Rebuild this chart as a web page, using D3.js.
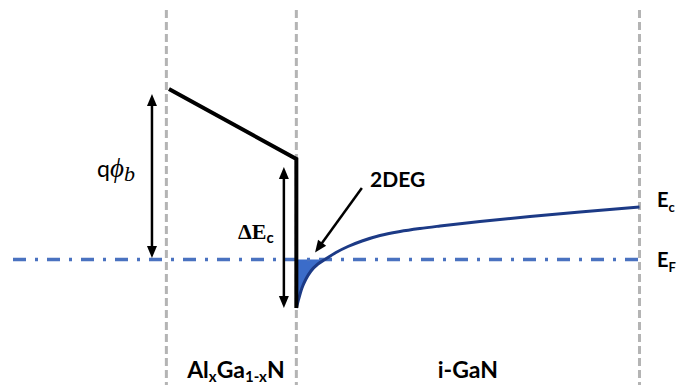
<!DOCTYPE html>
<html><head><meta charset="utf-8">
<script src="https://cdn.jsdelivr.net/npm/d3@7"></script>
<style>html,body{margin:0;padding:0;background:#fff;}svg{display:block;}</style>
</head><body>
<svg id="c" width="679" height="385"></svg>
<script>
// ---- data (position in nm, energy in eV relative to E_F) ----
const interfaces = [0, 25, 91];               // layer boundaries (nm)
const barrierX = [0.5, 25, 25];               // AlGaN conduction band
const barrierE = [1.705, 1.005, -0.485];
const gaNX = [25, 25.5, 26.08, 26.85, 27.81, 29.15, 30.5, 32.62, 34.93, 37.63, 41.09, 44.94, 48.79, 52.63, 60.32, 69.94, 79.56, 91];
const gaNE = [-0.485, -0.385, -0.285, -0.195, -0.115, -0.045, 0, 0.07, 0.13, 0.185, 0.24, 0.28, 0.31, 0.335, 0.38, 0.43, 0.475, 0.525];
const fermiRange = [-29.5, 91];
const fermiE = 0;
const phiArrow = {x: -2.77, e0: 1.655, e1: 0.015};
const dEcArrow = {x: 22.6, e0: 0.925, e1: -0.485};
const degArrow = {x0: 37.6, e0: 0.715, x1: 28.6, e1: 0.07};
const layerLabels = [
  {parts: [["Al",0],["x",1],["Ga",0],["1-x",1],["N",0]], x: 4.0},
  {parts: [["i-GaN",0]], x: 52.2}
];

const svg = d3.select("#c");
const x = d3.scaleLinear().domain([-32, 98.6]).range([0, 679]);
const y = d3.scaleLinear().domain([-1.255, 2.595]).range([385, 0]);

// layer boundaries
svg.selectAll("line.iface").data(interfaces).enter().append("line")
  .attr("x1", d => x(d)).attr("x2", d => x(d))
  .attr("y1", 10).attr("y2", 385)
  .attr("stroke", "#b4b4b4").attr("stroke-width", 3)
  .attr("stroke-dasharray", "8,4");

// 2DEG fill
const pts = gaNX.map((d, i) => [d, gaNE[i]]);
const fillPts = pts.filter(p => p[1] <= 0);
svg.append("path")
  .attr("d", d3.area().x(p => x(p[0])).y0(y(fermiE)).y1(p => y(p[1])).curve(d3.curveMonotoneX)(fillPts))
  .attr("fill", "#3b6cc9");

// Fermi level
svg.append("line")
  .attr("x1", x(fermiRange[0])).attr("x2", x(fermiRange[1]))
  .attr("y1", y(fermiE)).attr("y2", y(fermiE))
  .attr("stroke", "#4a72c0").attr("stroke-width", 3.5)
  .attr("stroke-dasharray", "13,9,3,9");

// GaN conduction band
svg.append("path")
  .attr("d", d3.line().x(p => x(p[0])).y(p => y(p[1])).curve(d3.curveMonotoneX)(pts))
  .attr("fill", "none").attr("stroke", "#1c3a86").attr("stroke-width", 3);

// AlGaN barrier
svg.append("path")
  .attr("d", d3.line()(barrierX.map((d, i) => [x(d), y(barrierE[i])])))
  .attr("fill", "none").attr("stroke", "#000").attr("stroke-width", 4)
  .attr("stroke-linejoin", "miter");

// arrows
function arrow(x0, y0, x1, y1, both) {
  const g = svg.append("g");
  const ang = Math.atan2(y1 - y0, x1 - x0);
  const L = 12, W = 5;
  const head = (tx, ty, a) => {
    const bx = tx - L * Math.cos(a), by = ty - L * Math.sin(a);
    return `M${tx},${ty}L${bx + W * Math.sin(a)},${by - W * Math.cos(a)}L${bx - W * Math.sin(a)},${by + W * Math.cos(a)}Z`;
  };
  const sx = both ? x0 + (L - 2) * Math.cos(ang) : x0, sy = both ? y0 + (L - 2) * Math.sin(ang) : y0;
  g.append("line").attr("x1", sx).attr("y1", sy)
    .attr("x2", x1 - (L - 2) * Math.cos(ang)).attr("y2", y1 - (L - 2) * Math.sin(ang))
    .attr("stroke", "#000").attr("stroke-width", 2.5);
  g.append("path").attr("d", head(x1, y1, ang)).attr("fill", "#000");
  if (both) g.append("path").attr("d", head(x0, y0, ang + Math.PI)).attr("fill", "#000");
}
arrow(x(phiArrow.x), y(phiArrow.e0), x(phiArrow.x), y(phiArrow.e1), true);
arrow(x(dEcArrow.x), y(dEcArrow.e0), x(dEcArrow.x), y(dEcArrow.e1), true);
arrow(x(degArrow.x0), y(degArrow.e0), x(degArrow.x1), y(degArrow.e1), false);

const sans = "Lato, 'Open Sans', sans-serif";
const serif = "'Liberation Serif', 'DejaVu Serif', serif";

// qφb
const q = svg.append("text").attr("x", 97).attr("y", 177).attr("font-size", 23).attr("fill", "#000");
q.append("tspan").attr("font-family", sans).text("q");
q.append("tspan").attr("font-family", serif).attr("font-style", "italic").attr("font-size", 27).text("ϕ");
q.append("tspan").attr("font-family", serif).attr("font-style", "italic").attr("font-size", 22).attr("dy", 4).text("b");

// ΔEc
const de = svg.append("text").attr("x", 238).attr("y", 239).attr("fill", "#000").attr("font-weight", "bold");
de.append("tspan").attr("font-family", serif).attr("font-size", 22).text("ΔE");
de.append("tspan").attr("font-family", sans).attr("font-size", 15).attr("dy", 4).text("c");

// 2DEG
svg.append("text").attr("x", 370).attr("y", 187).attr("font-family", sans)
  .attr("font-weight", "bold").attr("font-size", 21).text("2DEG");

// Ec, EF
[["c", 207], ["F", 267]].forEach(([s, by]) => {
  const t = svg.append("text").attr("x", 657).attr("y", by).attr("font-family", sans)
    .attr("font-weight", "bold").attr("font-size", 20);
  t.append("tspan").text("E");
  t.append("tspan").attr("font-size", 13).attr("dy", 5).text(s);
});

// layer labels
layerLabels.forEach(l => {
  const t = svg.append("text").attr("x", x(l.x)).attr("y", 378).attr("font-family", sans)
    .attr("font-weight", "bold").attr("font-size", 23);
  let sub = false;
  l.parts.forEach(([s, isSub]) => {
    const ts = t.append("tspan").text(s);
    if (isSub && !sub) { ts.attr("dy", 4).attr("font-size", 15); sub = true; }
    else if (isSub) { ts.attr("font-size", 15); }
    else if (sub) { ts.attr("dy", -4); sub = false; }
  });
});
</script>
</body></html>
